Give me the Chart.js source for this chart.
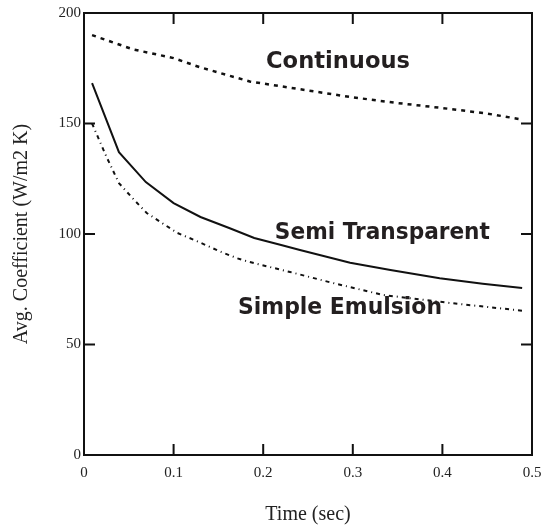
<!DOCTYPE html>
<html>
<head>
<meta charset="utf-8">
<script src="https://cdn.jsdelivr.net/npm/chart.js@4"></script>
<style>
  html, body { margin: 0; padding: 0; background: #fff; }
  canvas { display: block; }
</style>
</head>
<body>
<canvas id="chart" width="544" height="527"></canvas>
<script>
// values
const continuousX = [0.009, 0.055, 0.1, 0.129, 0.185, 0.241, 0.297, 0.349, 0.4, 0.45, 0.489];
const continuousY = [190, 183.5, 179.6, 175.5, 169, 165.5, 162, 159.3, 157, 154.5, 151.8];

const semiX = [0.009, 0.039, 0.069, 0.1, 0.13, 0.162, 0.19, 0.22, 0.241, 0.297, 0.342, 0.397, 0.445, 0.489];
const semiY = [168.3, 137, 123.5, 114, 107.7, 102.7, 98.2, 95, 92.8, 87, 83.7, 80, 77.5, 75.6];

const simpleX = [0.009, 0.025, 0.039, 0.056, 0.07, 0.087, 0.104, 0.123, 0.153, 0.171, 0.185, 0.23, 0.278, 0.334, 0.408, 0.489];
const simpleY = [150, 135, 123, 115.4, 109.5, 105, 100.5, 97.3, 91.9, 89, 87.3, 82.8, 77.8, 72.4, 68.8, 65.3];

const xTicks = [0, 0.1, 0.2, 0.3, 0.4, 0.5];
const yTicks = [0, 50, 100, 150, 200];

const toPoints = (xs, ys) => xs.map((x, i) => ({ x: x, y: ys[i] }));

// curve captions, placed in data units
const captions = [
  { text: 'Continuous', x: 0.2835, y: 178, w: 144 },
  { text: 'Semi Transparent', x: 0.333, y: 100.5, w: 215 },
  { text: 'Simple Emulsion', x: 0.2857, y: 66.5, w: 204 }
];

const frame = {
  id: 'frame',
  afterDatasetsDraw(chart) {
    const { ctx, chartArea: a, scales: { x, y } } = chart;
    ctx.save();
    ctx.strokeStyle = '#111';
    ctx.lineWidth = 2;
    ctx.strokeRect(a.left, a.top, a.right - a.left, a.bottom - a.top);
    const len = 11;
    ctx.beginPath();
    xTicks.forEach(v => {
      const px = x.getPixelForValue(v);
      ctx.moveTo(px, a.bottom); ctx.lineTo(px, a.bottom - len);
      ctx.moveTo(px, a.top); ctx.lineTo(px, a.top + len);
    });
    yTicks.forEach(v => {
      const py = y.getPixelForValue(v);
      ctx.moveTo(a.left, py); ctx.lineTo(a.left + len, py);
      ctx.moveTo(a.right, py); ctx.lineTo(a.right - len, py);
    });
    ctx.stroke();

    ctx.fillStyle = '#231f20';
    ctx.font = 'bold 23px "DejaVu Sans"';
    ctx.textAlign = 'center';
    ctx.textBaseline = 'middle';
    captions.forEach(c => {
      ctx.fillText(c.text, x.getPixelForValue(c.x), y.getPixelForValue(c.y), c.w);
    });
    ctx.restore();
  }
};

new Chart(document.getElementById('chart'), {
  type: 'line',
  data: {
    datasets: [
      {
        label: 'Continuous',
        data: toPoints(continuousX, continuousY),
        borderColor: '#111',
        borderWidth: 2.5,
        borderDash: [4, 5],
        pointRadius: 0,
        tension: 0
      },
      {
        label: 'Semi Transparent',
        data: toPoints(semiX, semiY),
        borderColor: '#111',
        borderWidth: 2,
        pointRadius: 0,
        tension: 0
      },
      {
        label: 'Simple Emulsion',
        data: toPoints(simpleX, simpleY),
        borderColor: '#111',
        borderWidth: 2,
        borderDash: [4, 4, 1, 4],
        pointRadius: 0,
        tension: 0
      }
    ]
  },
  options: {
    responsive: false,
    animation: false,
    devicePixelRatio: 1,
    layout: { padding: { top: 13, right: 12, left: 0, bottom: 0 } },
    plugins: {
      legend: { display: false },
      tooltip: { enabled: false }
    },
    scales: {
      x: {
        type: 'linear',
        min: 0,
        max: 0.5,
        afterFit: s => { s.height = 72; s.paddingLeft = 0; s.paddingRight = 0; },
        afterBuildTicks: s => { s.ticks = xTicks.map(v => ({ value: v })); },
        grid: { display: false, drawTicks: false },
        border: { display: false },
        ticks: {
          padding: 9,
          color: '#222',
          font: { family: '"Liberation Serif"', size: 15 },
          callback: v => String(v)
        },
        title: {
          display: true,
          text: 'Time (sec)',
          color: '#222',
          font: { family: '"Liberation Serif"', size: 20 },
          padding: { top: 0, bottom: 0 }
        }
      },
      y: {
        type: 'linear',
        min: 0,
        max: 200,
        afterFit: s => { s.width = 84; s.paddingTop = 0; s.paddingBottom = 0; },
        afterBuildTicks: s => { s.ticks = yTicks.map(v => ({ value: v })); },
        grid: { display: false, drawTicks: false },
        border: { display: false },
        ticks: {
          padding: 3,
          color: '#222',
          font: { family: '"Liberation Serif"', size: 15 },
          callback: v => String(v)
        },
        title: {
          display: true,
          text: 'Avg. Coefficient (W/m2 K)',
          color: '#222',
          font: { family: '"Liberation Serif"', size: 20 },
          padding: { top: 10, bottom: 0 }
        }
      }
    }
  },
  plugins: [frame]
});
</script>
</body>
</html>
